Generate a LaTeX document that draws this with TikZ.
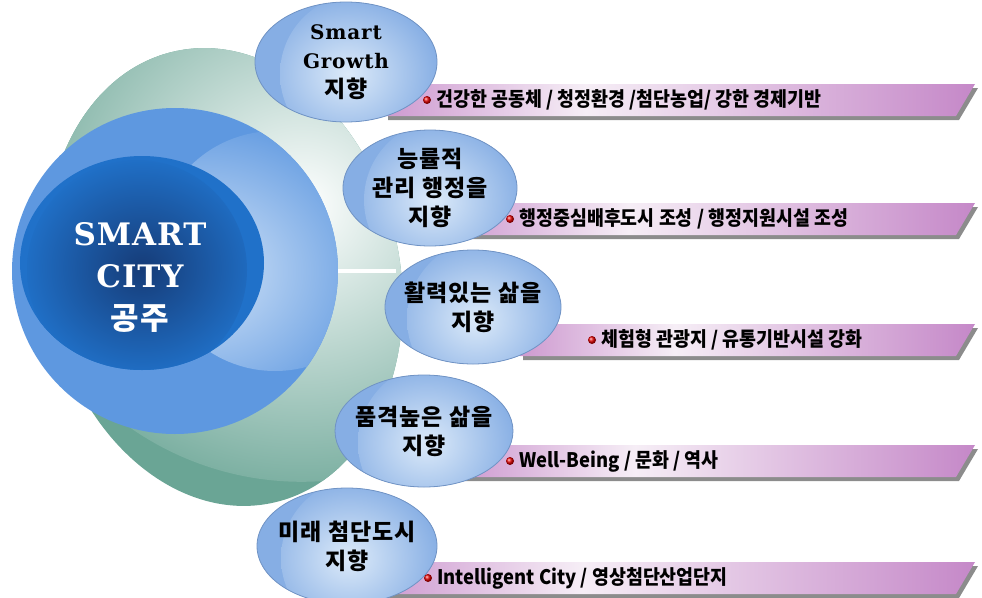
\documentclass[tikz,border=0pt]{standalone}
\usepackage{fontspec}
\setmainfont{DejaVu Serif}
\newfontfamily\titlefont{DejaVu Serif Bold}[LetterSpace=3]
\newfontfamily\serifb{DejaVu Serif Bold}[LetterSpace=4]
\newfontfamily\krfont{Noto Sans CJK KR}[LetterSpace=4]
\newfontfamily\bandfont{Noto Sans CJK KR}[FakeStretch=0.92]
\usetikzlibrary{shapes.geometric,positioning}

\definecolor{haloteal}{HTML}{6AA595}
\definecolor{midblue}{HTML}{5E98E0}
\definecolor{midglow}{HTML}{D3E4F8}
\definecolor{coreblue}{HTML}{2071C9}
\definecolor{coredeep}{HTML}{163C78}
\definecolor{bubbleblue}{HTML}{86AEE4}
\definecolor{bubblelight}{HTML}{DCEAF9}
\definecolor{bubbleedge}{HTML}{7093C4}
\definecolor{bandpurple}{HTML}{C588C8}
\definecolor{bandlight}{HTML}{F6EEF6}
\definecolor{shadowgray}{HTML}{8C8C8C}

\pgfdeclarehorizontalshading{bannershade}{100bp}{color(0bp)=(bandpurple!85!white); color(25bp)=(bandpurple!85!white); color(42bp)=(bandlight); color(75bp)=(bandpurple); color(100bp)=(bandpurple)}

\tikzset{
  bubble/.style={ellipse, inner sep=-12pt, draw=bubbleedge, line width=0.8pt, fill=bubbleblue, align=center,
    font=\krfont\bfseries\fontsize{23}{29}\selectfont,
    path picture={\shade[inner color=bubblelight, outer color=bubbleblue] ([shift={(14,12)}]path picture bounding box.center) circle (80);}},
  band/.style={shading=bannershade},
  bandshadow/.style={fill=shadowgray},
  dot/.style={circle, minimum size=8pt, inner sep=0pt, ball color=red!90!black},
  item/.style={font=\bandfont\bfseries\fontsize{20}{22}\selectfont, inner sep=0pt}
}

\begin{document}
\begin{tikzpicture}[x=1pt,y=-1pt]
	\useasboundingbox (0,0) rectangle (982,597);
	% big circles on the left
	\node[ellipse, rotate=12, minimum width=352pt, minimum height=462pt, inner sep=0pt, fill=haloteal,
		path picture={\shade[inner color=white, outer color=haloteal] ([shift={(96,-77)}]path picture bounding box.center) circle (300);}] (halo) at (224,277) {};
	\node[circle, minimum size=326pt, inner sep=0pt, fill=midblue,
		path picture={\shade[inner color=midglow, outer color=midblue] ([shift={(100,-20)}]path picture bounding box.center) circle (120);}] (mid) at (175,271) {};
	\node[ellipse, minimum width=244pt, minimum height=214pt, inner sep=0pt, fill=coreblue,
		path picture={\shade[inner color=coredeep, outer color=coreblue] ([shift={(-5,7)}]path picture bounding box.center) circle (110);}] (core) at (142,263) {};
	\draw[white, line width=4pt] (mid.east) -- (mid.east -| halo.east);
	\node[text=white, align=center, font=\titlefont\fontsize{31}{42}\selectfont] (city) at (140,277) {SMART\\CITY\\{\krfont\bfseries 공주}};
	% banners
	\fill[bandshadow] (388,88) -- (978,88) -- (959,120) -- (388,120) -- cycle;
	\shade[band] (385,84) -- (975,84) -- (956,116) -- (385,116) -- cycle;
	\fill[bandshadow] (453,207) -- (978,207) -- (959,239) -- (453,239) -- cycle;
	\shade[band] (450,203) -- (975,203) -- (956,235) -- (450,235) -- cycle;
	\fill[bandshadow] (523,328) -- (978,328) -- (959,360) -- (523,360) -- cycle;
	\shade[band] (520,324) -- (975,324) -- (956,356) -- (520,356) -- cycle;
	\fill[bandshadow] (463,449) -- (978,449) -- (959,481) -- (463,481) -- cycle;
	\shade[band] (460,445) -- (975,445) -- (956,477) -- (460,477) -- cycle;
	\fill[bandshadow] (383,566) -- (978,566) -- (959,598) -- (383,598) -- cycle;
	\shade[band] (380,562) -- (975,562) -- (956,594) -- (380,594) -- cycle;
	% goals
	\node[bubble, minimum width=182pt, minimum height=120pt] (e1) at (346,62) {{\serifb\fontsize{20}{29}\selectfont Smart}\\{\serifb\fontsize{20}{29}\selectfont Growth}\\지향};
	\node[bubble, minimum width=174pt, minimum height=116pt] (e2) at (430,188) {능률적\\관리 행정을\\지향};
	\node[bubble, minimum width=176pt, minimum height=114pt] (e3) at (473,307) {활력있는 삶을\\지향};
	\node[bubble, minimum width=178pt, minimum height=112pt] (e4) at (424,431) {품격높은 삶을\\지향};
	\node[bubble, minimum width=180pt, minimum height=116pt] (e5) at (347,546) {미래 첨단도시\\지향};
	% items
	\node[dot] (d1) at (427,100) {};
	\node[dot] (d2) at (510,219) {};
	\node[dot] (d3) at (592,340) {};
	\node[dot] (d4) at (510,461) {};
	\node[dot] (d5) at (428,578) {};
	\node[item, right=5pt of d1] (t1) {건강한 공동체 / 청정환경 /첨단농업/ 강한 경제기반};
	\node[item, right=5pt of d2] (t2) {행정중심배후도시 조성 / 행정지원시설 조성};
	\node[item, right=5pt of d3] (t3) {체험형 관광지 / 유통기반시설 강화};
	\node[item, right=5pt of d4] (t4) {Well-Being / 문화 / 역사};
	\node[item, right=5pt of d5] (t5) {Intelligent City / 영상첨단산업단지};
\end{tikzpicture}
\end{document}
